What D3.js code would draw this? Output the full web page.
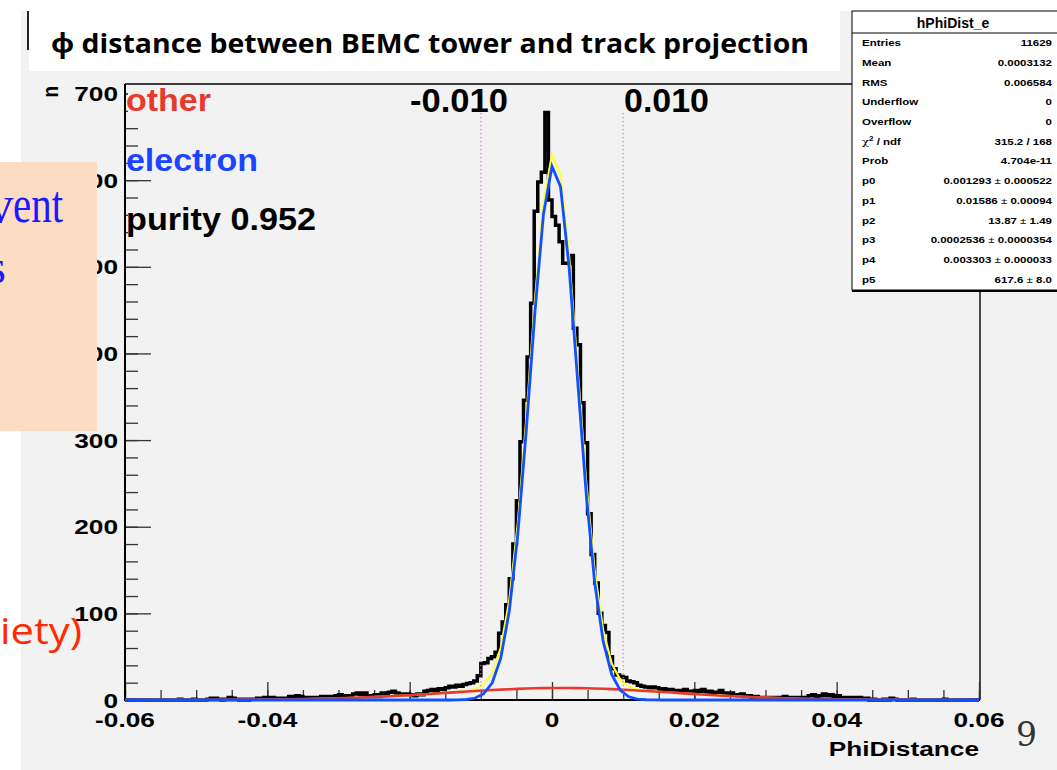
<!DOCTYPE html>
<html>
<head>
<meta charset="utf-8">
<script src="https://cdn.jsdelivr.net/npm/d3@7"></script>
<style>
  body { margin: 0; background: #ffffff; }
  svg { display: block; }
</style>
</head>
<body>
<div class="canvas"></div>
<script>
// histogram: 240 bins of 0.0005 from -0.06
const binLow = -0.06;
const binWidth = 0.0005;
const counts = [
  0,0,0,0,0,0,0,0,0,0, 0,0,0,0,0,1,0,0,0,1, 0,0,0,1,2,2,1,0,1,3,
  2,1,0,1,0,1,1,2,1,3, 2,3,1,2,1,2,4,3,5,4, 2,3,2,3,2,4,3,4,2,5,
  6,4,5,3,7,8,6,8,4,5, 6,4,8,7,9,10,8,7,6,7, 6,5,7,6,10,11,12,10,13,12,
  14,16,15,17,16,18,19,20,22,28, 42,43,48,50,55,77,90,110,140,180,
  230,298,346,396,458,564,598,609,678,577, 558,548,529,504,504,513,429,410,343,297,
  215,168,135,100,86,78,50,36,29,27, 26,22,21,20,17,16,15,14,15,14,
  12,13,11,12,10,11,9,12,10,9, 11,10,12,9,10,8,9,11,8,7,
  8,6,5,7,4,5,3,4,2,3, 1,3,2,3,2,4,3,2,3,2,
  3,2,5,6,4,5,7,5,6,4, 5,3,3,2,3,2,3,1,2,0,
  1,0,0,1,0,2,1,0,0,0, 0,1,0,0,0,0,0,0,0,0,
  1,0,0,0,0,0,0,0,0,0
];

// fit curves, sampled
const fitX = [
  -0.06, -0.055, -0.05, -0.045, -0.04, -0.035, -0.03, -0.027,
  -0.024, -0.0228, -0.0216, -0.0204, -0.0192, -0.018, -0.0168, -0.0156, -0.0144, -0.0132,
  -0.012, -0.0108, -0.0096, -0.0084, -0.0072, -0.006, -0.0048, -0.0036, -0.0024, -0.0012,
  0, 0.0012, 0.0024, 0.0036, 0.0048, 0.006, 0.0072, 0.0084, 0.0096, 0.0108,
  0.012, 0.0132, 0.0144, 0.0156, 0.0168, 0.018, 0.0192, 0.0204, 0.0216, 0.0228, 0.024,
  0.027, 0.03, 0.035, 0.04, 0.045, 0.05, 0.055, 0.06
];
const electronFit = [
  0, 0, 0, 0, 0, 0, 0, 0,
  0, 0, 0, 0, 0, 0, 0, 0, 0, 0.2,
  0.6, 2.3, 7.2, 19.9, 48.3, 102.8, 191.5, 312.7, 447.4, 560.8,
  615.8, 592.5, 499.5, 368.9, 238.8, 135.3, 67.3, 29.3, 11.2, 3.7,
  1.1, 0.3, 0.1, 0, 0, 0, 0, 0, 0, 0, 0,
  0, 0, 0, 0, 0, 0, 0, 0
];
const otherFit = [
  0.01, 0.03, 0.07, 0.2, 0.47, 1.01, 1.98, 2.82,
  3.89, 4.37, 4.89, 5.44, 6.02, 6.61, 7.23, 7.86, 8.5, 9.13,
  9.76, 10.37, 10.95, 11.5, 12.01, 12.48, 12.88, 13.22, 13.5, 13.7,
  13.82, 13.87, 13.84, 13.72, 13.54, 13.27, 12.94, 12.55, 12.1, 11.59,
  11.05, 10.46, 9.86, 9.23, 8.58, 7.94, 7.31, 6.7, 6.11, 5.53, 4.99,
  3.73, 2.7, 1.45, 0.71, 0.31, 0.12, 0.04, 0.02
];
const totalFit = [
  0.01, 0.03, 0.07, 0.2, 0.47, 1.01, 1.98, 2.82,
  3.9, 4.4, 4.9, 5.4, 6.0, 6.6, 7.2, 7.9, 8.5, 9.3,
  10.4, 12.7, 18.2, 31.4, 60.3, 115.3, 204.4, 325.9, 460.9, 574.5,
  629.6, 606.4, 513.3, 382.6, 252.3, 148.6, 80.2, 41.9, 23.3, 15.3,
  12.2, 10.8, 9.9, 9.2, 8.6, 7.9, 7.3, 6.7, 6.1, 5.5, 5.0,
  3.73, 2.7, 1.45, 0.71, 0.31, 0.12, 0.04, 0.02
];

// axes
const xTicks = [-0.06, -0.04, -0.02, 0, 0.02, 0.04, 0.06];
const xTickLabels = ['-0.06', '-0.04', '-0.02', '0', '0.02', '0.04', '0.06'];
const xMinorStep = 0.005;
const yTicks = [0, 100, 200, 300, 400, 500, 600, 700];
const yMinorStep = 20;
const yMax = 711;

// cut lines
const cutValues = [-0.01, 0.01];
const cutLabels = ['-0.010', '0.010'];

// stats box
const statsTitle = 'hPhiDist_e';
const statsRows = [
  ['Entries', '11629'],
  ['Mean', '0.0003132'],
  ['RMS', '0.006584'],
  ['Underflow', '0'],
  ['Overflow', '0'],
  ['chi', '315.2 / 168'],
  ['Prob', '4.704e-11']
];
const paramRows = [
  ['p0', '0.001293', '0.000522'],
  ['p1', '0.01586', '0.00094'],
  ['p2', '13.87', '1.49'],
  ['p3', '0.0002536', '0.0000354'],
  ['p4', '0.003303', '0.000033'],
  ['p5', '617.6', '8.0']
];

// legend
const legendItems = [
  { text: 'other', color: '#e8392c' },
  { text: 'electron', color: '#1a44ff' },
  { text: 'purity 0.952', color: '#000000' }
];

// !------------------------------- graph
const dims = { width: 1057, height: 770, left: 125, right: 979, top: 84, bottom: 700 };
const rootFont = '"Liberation Sans", Arial, Helvetica, sans-serif';
const stretch = 1.25;

const svg = d3.select('.canvas')
  .append('svg')
  .attr('width', dims.width)
  .attr('height', dims.height);

// backgrounds
svg.append('rect').attr('x', 21).attr('y', 11).attr('width', dims.width - 21).attr('height', dims.height - 11).attr('fill', '#f2f2f2');
svg.append('rect').attr('x', 29).attr('y', 0).attr('width', 811).attr('height', 71).attr('fill', '#ffffff');
svg.append('line').attr('x1', 28).attr('x2', 28).attr('y1', 11).attr('y2', 50).attr('stroke', '#222').attr('stroke-width', 2);

svg.append('text')
  .attr('x', 51).attr('y', 53)
  .attr('font-family', '"Open Sans", "Noto Sans", sans-serif')
  .attr('font-weight', 700)
  .attr('font-size', 27)
  .attr('textLength', 758)
  .attr('lengthAdjust', 'spacingAndGlyphs')
  .attr('fill', '#000')
  .text('\u03d5 distance between BEMC tower and track projection');

// scales
const x = d3.scaleLinear().domain([-0.06, 0.06]).range([dims.left, dims.right]);
const y = d3.scaleLinear().domain([0, yMax]).range([dims.bottom, dims.top]);

// stretched text helper
function stretchText(g, tx, ty, txt, size, anchor, color) {
  return g.append('text')
    .attr('transform', `translate(${tx},${ty}) scale(${stretch},1)`)
    .attr('font-family', rootFont)
    .attr('font-weight', 700)
    .attr('font-size', size)
    .attr('text-anchor', anchor)
    .attr('fill', color || '#000')
    .text(txt);
}

const graph = svg.append('g');

// frame
graph.append('line').attr('x1', dims.left).attr('x2', dims.right + 1).attr('y1', dims.top).attr('y2', dims.top).attr('stroke', '#000').attr('stroke-width', 1.6);
graph.append('line').attr('x1', dims.right + 1).attr('x2', dims.right + 1).attr('y1', dims.top).attr('y2', dims.bottom).attr('stroke', '#000').attr('stroke-width', 1.4);

// tick marks (pointing inward)
const xMinor = d3.range(-0.06, 0.06 + 1e-9, xMinorStep).map((d) => +d.toFixed(4));
const yMinor = d3.range(0, yMax, yMinorStep);

const xMinorAxis = graph.append('g').attr('transform', `translate(0,${dims.bottom})`)
  .call(d3.axisTop(x).tickValues(xMinor).tickSize(10).tickFormat(''));
const xMajorAxis = graph.append('g').attr('transform', `translate(0,${dims.bottom})`)
  .call(d3.axisTop(x).tickValues(xTicks).tickSize(18).tickFormat(''));
const yMinorAxis = graph.append('g').attr('transform', `translate(${dims.left},0)`)
  .call(d3.axisRight(y).tickValues(yMinor).tickSize(13).tickFormat(''));
const yMajorAxis = graph.append('g').attr('transform', `translate(${dims.left},0)`)
  .call(d3.axisRight(y).tickValues(yTicks).tickSize(26).tickFormat(''));

[xMinorAxis, xMajorAxis, yMinorAxis, yMajorAxis].forEach((g) => {
  g.select('path.domain').remove();
  g.selectAll('.tick line').attr('stroke', '#333').attr('stroke-width', 1.3);
});

// axis lines
graph.append('line').attr('x1', dims.left).attr('x2', dims.left).attr('y1', dims.top).attr('y2', dims.bottom + 1).attr('stroke', '#000').attr('stroke-width', 2);
graph.append('line').attr('x1', dims.left).attr('x2', dims.right + 1).attr('y1', dims.bottom).attr('y2', dims.bottom).attr('stroke', '#000').attr('stroke-width', 2);

// tick labels
xTicks.forEach((t, i) => {
  stretchText(graph, x(t), 727, xTickLabels[i], 21, 'middle');
});
yTicks.forEach((t) => {
  stretchText(graph, 118, y(t) + 7.5, String(t), 21, 'end');
});

// axis titles
stretchText(graph, dims.right, 756, 'PhiDistance', 21, 'end');
graph.append('text')
  .attr('transform', 'translate(58,86) rotate(-90) scale(1,1.2)')
  .attr('font-family', rootFont)
  .attr('font-weight', 700)
  .attr('font-size', 19)
  .attr('text-anchor', 'end')
  .text('n');

// histogram
const histPoints = counts.map((c, i) => [binLow + i * binWidth, c]);
histPoints.push([binLow + counts.length * binWidth, counts[counts.length - 1]]);

const stepLine = d3.line()
  .x((d) => x(d[0]))
  .y((d) => y(Math.min(d[1], yMax)))
  .curve(d3.curveStepAfter);

graph.append('path')
  .attr('d', stepLine(histPoints))
  .attr('fill', 'none')
  .attr('stroke', '#000')
  .attr('stroke-width', 3.5)
  .attr('stroke-linejoin', 'miter');

// fit curves
const fitLine = d3.line()
  .x((d) => x(d[0]))
  .y((d) => y(d[1]));

const curves = [
  { values: totalFit, color: '#ffff3c', width: 2.2 },
  { values: otherFit, color: '#e8392c', width: 2.6 },
  { values: electronFit, color: '#1250ff', width: 2.8 }
];
curves.forEach((c) => {
  graph.append('path')
    .attr('d', fitLine(fitX.map((v, i) => [v, c.values[i]])))
    .attr('fill', 'none')
    .attr('stroke', c.color)
    .attr('stroke-width', c.width);
});

// cut lines and labels
cutValues.forEach((v) => {
  graph.append('line')
    .attr('x1', x(v)).attr('x2', x(v))
    .attr('y1', 113).attr('y2', dims.bottom - 1)
    .attr('stroke', '#ff55ff')
    .attr('stroke-width', 1.2)
    .attr('stroke-dasharray', '1.2,2.8');
});
graph.append('text')
  .attr('x', 459).attr('y', 112)
  .attr('font-family', rootFont).attr('font-weight', 700).attr('font-size', 33)
  .attr('text-anchor', 'middle')
  .attr('textLength', 98).attr('lengthAdjust', 'spacingAndGlyphs')
  .text(cutLabels[0]);
graph.append('text')
  .attr('x', 624).attr('y', 112)
  .attr('font-family', rootFont).attr('font-weight', 700).attr('font-size', 33)
  .attr('textLength', 85).attr('lengthAdjust', 'spacingAndGlyphs')
  .text(cutLabels[1]);

// legend texts with opaque background
const legendY = [111, 171, 230];
const legendLen = [85, 132, 190];
legendItems.forEach((item, i) => {
  const t = graph.append('text')
    .attr('x', 126).attr('y', legendY[i])
    .attr('font-family', rootFont).attr('font-weight', 700).attr('font-size', 31)
    .attr('textLength', legendLen[i]).attr('lengthAdjust', 'spacingAndGlyphs')
    .attr('fill', item.color)
    .text(item.text);
  const bb = t.node().getBBox();
  graph.insert('rect', function () { return t.node(); })
    .attr('x', bb.x + 2).attr('y', bb.y + 6)
    .attr('width', bb.width).attr('height', bb.height - 8)
    .attr('fill', '#f2f2f2');
});

// stats box
const stats = svg.append('g');
stats.append('rect').attr('x', 852).attr('y', 11).attr('width', 220).attr('height', 279)
  .attr('fill', '#fff').attr('stroke', '#000').attr('stroke-width', 1);
stats.append('line').attr('x1', 852).attr('x2', dims.width).attr('y1', 291).attr('y2', 291)
  .attr('stroke', '#000').attr('stroke-width', 2);
stats.append('line').attr('x1', 852).attr('x2', dims.width).attr('y1', 33).attr('y2', 33)
  .attr('stroke', '#000').attr('stroke-width', 1);
stats.append('text')
  .attr('x', 953).attr('y', 28)
  .attr('font-family', rootFont).attr('font-weight', 700).attr('font-size', 14)
  .attr('text-anchor', 'middle')
  .text(statsTitle);

const rowY = (i) => 46.2 + 19.7 * i;
statsRows.forEach((r, i) => {
  const lab = stretchText(stats, 862, rowY(i), '', 9.2, 'start');
  if (r[0] === 'chi') {
    lab.append('tspan').attr('font-weight', 400).attr('font-family', 'DejaVu Serif, serif').text('\u03c7');
    lab.append('tspan').attr('font-size', 6.5).attr('dy', -4).text('2');
    lab.append('tspan').attr('dy', 4).text(' / ndf');
  } else {
    lab.text(r[0]);
  }
  stretchText(stats, 1052, rowY(i), r[1], 9.2, 'end');
});
paramRows.forEach((r, j) => {
  const i = statsRows.length + j;
  stretchText(stats, 862, rowY(i), r[0], 9.2, 'start');
  const v = stretchText(stats, 1052, rowY(i), '', 9.2, 'end');
  v.append('tspan').text(r[1] + '  ');
  v.append('tspan').attr('font-weight', 400).text('\u00b1 ');
  v.append('tspan').text(r[2]);
});

// page number
svg.append('text')
  .attr('x', 1016).attr('y', 746)
  .attr('font-family', '"DejaVu Serif", "Liberation Serif", serif')
  .attr('font-size', 33)
  .attr('fill', '#333')
  .text('9');

// overlapping slide elements (cut off at the left edge)
const serif = '"Liberation Serif", "Times New Roman", serif';
const slide = svg.append('g');
slide.append('rect').attr('x', 0).attr('y', 162).attr('width', 97).attr('height', 269).attr('fill', '#fcdcc2');
slide.append('text')
  .attr('x', 13.5).attr('y', 222)
  .attr('font-family', serif).attr('font-size', 52)
  .attr('text-anchor', 'end')
  .attr('fill', '#1a1aff')
  .text('v');
slide.append('text')
  .attr('x', 13).attr('y', 222)
  .attr('font-family', serif).attr('font-size', 52)
  .attr('textLength', 50).attr('lengthAdjust', 'spacingAndGlyphs')
  .attr('fill', '#1a1aff')
  .text('ent');
slide.append('text')
  .attr('x', 6).attr('y', 283)
  .attr('font-family', serif).attr('font-size', 48)
  .attr('text-anchor', 'end')
  .attr('fill', '#1a1aff')
  .text('s');
slide.append('text')
  .attr('x', 0).attr('y', 644)
  .attr('font-family', '"Open Sans", "Noto Sans", sans-serif')
  .attr('font-size', 37)
  .attr('textLength', 82)
  .attr('lengthAdjust', 'spacingAndGlyphs')
  .attr('fill', '#ff2a00')
  .text('iety)');
</script>
</body>
</html>
